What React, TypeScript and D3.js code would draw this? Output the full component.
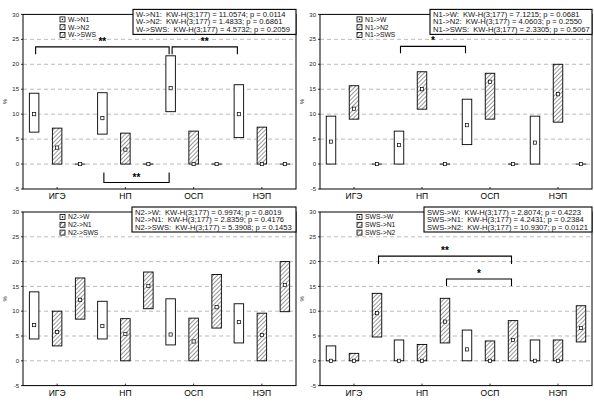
import React from 'react';
import * as d3 from 'd3';

const categories = ['ИГЭ', 'НП', 'ОСП', 'НЭП'];

// each entry: [q25, median, q75] per category
const wN1 = [[6.4, 10, 14.2], [6.0, 9.2, 14.3], [10.5, 15.2, 21.7], [5.3, 10, 15.9]];
const wN2 = [[0, 3.3, 7.2], [0, 2.9, 6.2], [0, 0, 6.6], [0, 0, 7.4]];
const wSWS = [[0, 0, 0], [0, 0, 0], [0, 0, 0], [0, 0, 0]];

const n1W = [[0, 4.5, 9.6], [0, 3.8, 6.6], [3.9, 7.8, 13.0], [0, 4.3, 9.6]];
const n1N2 = [[9.0, 11.1, 15.7], [11.0, 15.0, 18.5], [9.0, 16.5, 18.2], [8.4, 14.0, 20.0]];
const n1SWS = [[0, 0, 0], [0, 0, 0], [0, 0, 0], [0, 0, 0]];

const n2W = [[4.4, 7.2, 13.9], [4.4, 7.0, 12.0], [3.2, 5.3, 12.5], [3.6, 7.8, 11.5]];
const n2N1 = [[3.0, 5.8, 10.0], [0, 5.4, 8.5], [0, 3.9, 8.6], [0, 5.2, 9.6]];
const n2SWS = [[8.4, 12.3, 16.7], [10.5, 15.1, 17.9], [6.6, 10.8, 17.4], [9.9, 15.3, 20.0]];

const swsW = [[0, 0, 3.0], [0, 0, 4.2], [0, 2.3, 6.2], [0, 0, 4.2]];
const swsN1 = [[0, 0, 1.5], [0, 0, 3.3], [0, 0, 4.0], [0, 0, 4.2]];
const swsN2 = [[4.8, 9.6, 13.6], [3.6, 7.9, 12.6], [0, 4.2, 8.1], [3.8, 6.6, 11.1]];

const wNames = ['W->N1', 'W->N2', 'W->SWS'];
const n1Names = ['N1->W', 'N1->N2', 'N1->SWS'];
const n2Names = ['N2->W', 'N2->N1', 'N2->SWS'];
const swsNames = ['SWS->W', 'SWS->N1', 'SWS->N2'];

const wStats = [
  'W->N1:  KW-H(3;177) = 11.0574; p = 0.0114',
  'W->N2:  KW-H(3;177) = 1.4833; p = 0.6861',
  'W->SWS:  KW-H(3;177) = 4.5732; p = 0.2059',
];
const n1Stats = [
  'N1->W:  KW-H(3;177) = 7.1215; p = 0.0681',
  'N1->N2:  KW-H(3;177) = 4.0603; p = 0.2550',
  'N1->SWS:  KW-H(3;177) = 2.3305; p = 0.5067',
];
const n2Stats = [
  'N2->W:  KW-H(3;177) = 0.9974; p = 0.8019',
  'N2->N1:  KW-H(3;177) = 2.8359; p = 0.4176',
  'N2->SWS:  KW-H(3;177) = 5.3908; p = 0.1453',
];
const swsStats = [
  'SWS->W:  KW-H(3;177) = 2.8074; p = 0.4223',
  'SWS->N1:  KW-H(3;177) = 4.2431; p = 0.2384',
  'SWS->N2:  KW-H(3;177) = 10.9307; p = 0.0121',
];

// significance brackets: [category, series] to [category, series], level, drop, label
const wBrackets = [
  { a: [0, 0], b: [2, 0], y: 23.5, drop: -1.5, label: '**' },
  { a: [2, 0], b: [3, 0], y: 23.5, drop: -1.5, label: '**' },
  { a: [1, 0], b: [2, 0], y: -3.7, drop: 2.0, label: '**' },
];
const n1Brackets = [{ a: [1, 0], b: [2, 0], y: 23.6, drop: -1.4, label: '*' }];
const n2Brackets: typeof n1Brackets = [];
const swsBrackets = [
  { a: [0, 2], b: [2, 2], y: 21.1, drop: -1.6, label: '**' },
  { a: [1, 2], b: [2, 2], y: 16.5, drop: -1.4, label: '*' },
];

const yTicks = [-5, 0, 5, 10, 15, 20, 25, 30];
const gridTicks = [0, 5, 10, 15, 20, 25];

const panels = [
  { id: 'p1', x0: 23, x1: 296, yTop: 14.4, yBot: 189, series: [wN1, wN2, wSWS], names: wNames, stats: wStats, statW: 163, brackets: wBrackets },
  { id: 'p2', x0: 320, x1: 592, yTop: 14.4, yBot: 189, series: [n1W, n1N2, n1SWS], names: n1Names, stats: n1Stats, statW: 162, brackets: n1Brackets },
  { id: 'p3', x0: 23, x1: 296, yTop: 212, yBot: 385.6, series: [n2W, n2N1, n2SWS], names: n2Names, stats: n2Stats, statW: 164, brackets: n2Brackets },
  { id: 'p4', x0: 320, x1: 592, yTop: 212, yBot: 385.6, series: [swsW, swsN1, swsN2], names: swsNames, stats: swsStats, statW: 168, brackets: swsBrackets },
];

const font = 'Arial, "Liberation Sans", sans-serif';
const boxW = 9.5;

function Panel({ p }: { p: (typeof panels)[number] }) {
  const x = d3.scaleBand<string>().domain(categories).range([p.x0, p.x1]).padding(0);
  const off = d3.scalePoint<number>().domain([0, 1, 2]).range([-23, 23]);
  const y = d3.scaleLinear().domain([-5, 30]).range([p.yBot, p.yTop]);
  const cx = (c: number, s: number) => (x(categories[c]) as number) + x.bandwidth() / 2 + (off(s) as number);
  const fillFor = (s: number) => (s === 0 ? '#fff' : `url(#hatch-${p.id})`);

  return (
    <g>
      <defs>
        <pattern id={`hatch-${p.id}`} width={3} height={3} patternUnits="userSpaceOnUse" patternTransform="rotate(45)">
          <rect width={3} height={3} fill="#fff" />
          <line x1={0} y1={0} x2={0} y2={3} stroke="#444" strokeWidth={1.1} />
        </pattern>
      </defs>

      {gridTicks.map((t) => (
        <line key={t} x1={p.x0} x2={p.x1} y1={y(t)} y2={y(t)} stroke="#aaa" strokeWidth={0.8} strokeDasharray="4,3" />
      ))}

      <rect x={p.x0} y={p.yTop} width={p.x1 - p.x0} height={p.yBot - p.yTop} fill="none" stroke="#000" strokeWidth={1} />

      {yTicks.map((t) => (
        <g key={t}>
          <line x1={p.x0 - 2} x2={p.x0} y1={y(t)} y2={y(t)} stroke="#000" strokeWidth={0.8} />
          <text x={p.x0 - 4} y={y(t)} dy="0.35em" textAnchor="end" fontSize={6} fontFamily={font} fill="#222">
            {t}
          </text>
        </g>
      ))}
      <text transform={`translate(${p.x0 - 16},${(p.yTop + p.yBot) / 2}) rotate(-90)`} textAnchor="middle" fontSize={6} fontFamily={font} fill="#222">
        %
      </text>

      {categories.map((c) => (
        <g key={c}>
          <line x1={(x(c) as number) + x.bandwidth() / 2} x2={(x(c) as number) + x.bandwidth() / 2} y1={p.yBot} y2={p.yBot - 2} stroke="#000" strokeWidth={0.8} />
          <text x={(x(c) as number) + x.bandwidth() / 2} y={p.yBot + 10} textAnchor="middle" fontSize={8.5} fontFamily={font} fill="#000">
            {c}
          </text>
        </g>
      ))}

      {p.series.map((ser, s) =>
        ser.map((d, c) => {
          const [lo, med, hi] = d;
          const xc = cx(c, s);
          return (
            <g key={`${s}-${c}`}>
              <rect x={xc - boxW / 2} y={y(hi)} width={boxW} height={Math.max(0.01, y(lo) - y(hi))} fill={fillFor(s)} stroke="#000" strokeWidth={0.9} />
              <rect x={xc - 1.6} y={y(med) - 1.6} width={3.2} height={3.2} fill="#fff" stroke="#000" strokeWidth={0.7} />
            </g>
          );
        })
      )}

      {p.brackets.map((b, i) => {
        const xa = cx(b.a[0], b.a[1]) + 1.5;
        const xb = cx(b.b[0], b.b[1]) - 1.5;
        const yl = y(b.y);
        const yd = y(b.y + b.drop);
        return (
          <g key={i}>
            <path d={`M${xa},${yd}V${yl}H${xb}V${yd}`} fill="none" stroke="#000" strokeWidth={1.1} />
            <text x={(xa + xb) / 2} y={yl - 2} textAnchor="middle" fontSize={10} fontWeight="bold" fontFamily={font} fill="#000">
              {b.label}
            </text>
          </g>
        );
      })}

      {p.names.map((n, i) => {
        const ly = p.yTop + 5 + i * 7.8;
        return (
          <g key={n}>
            <rect x={p.x0 + 37} y={ly - 2.5} width={5} height={5} fill={fillFor(i)} stroke="#000" strokeWidth={0.8} />
            {i === 0 && <rect x={p.x0 + 38.8} y={ly - 0.7} width={1.4} height={1.4} fill="#000" />}
            <text x={p.x0 + 45} y={ly} dy="0.35em" fontSize={6.8} fontFamily={font} fill="#111">
              {n}
            </text>
          </g>
        );
      })}

      <rect x={p.x1 - p.statW} y={p.yTop - 5} width={p.statW} height={25} fill="#fff" stroke="#000" strokeWidth={1.1} />
      {p.stats.map((t, i) => (
        <text key={i} x={p.x1 - p.statW + 3} y={p.yTop + 2.5 + i * 7.5} fontSize={7.6} fontFamily={font} fill="#111" style={{ whiteSpace: 'pre' }}>
          {t}
        </text>
      ))}
    </g>
  );
}

export default function App() {
  return (
    <svg width={594} height={403} style={{ position: 'absolute', left: 0, top: 0, background: '#fff' }}>
      <rect width={594} height={403} fill="#fff" />
      {panels.map((p) => (
        <Panel key={p.id} p={p} />
      ))}
    </svg>
  );
}
